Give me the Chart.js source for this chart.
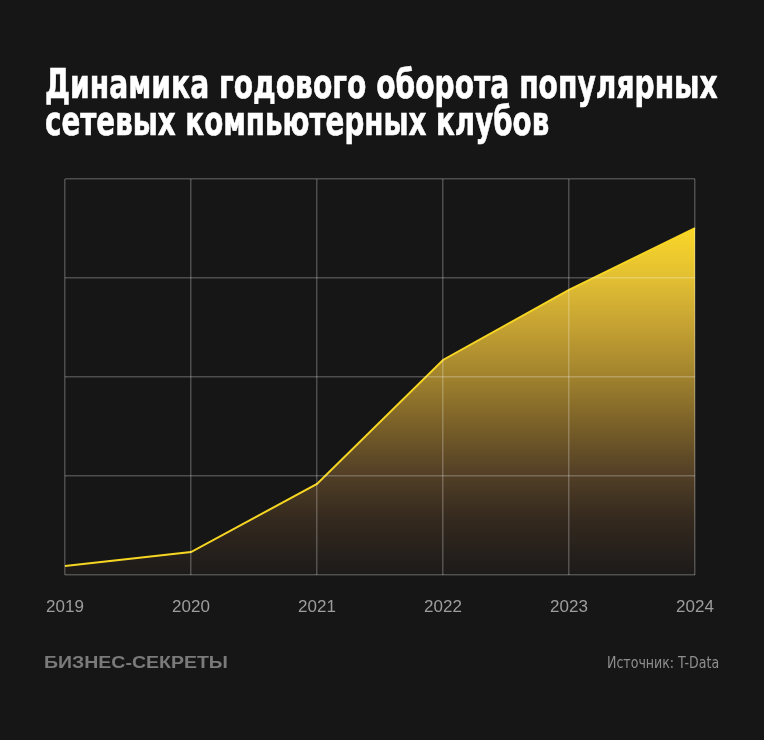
<!DOCTYPE html>
<html><head><meta charset="utf-8">
<script src="https://cdn.jsdelivr.net/npm/chart.js@4.4.0/dist/chart.umd.min.js"></script>
<style>
html,body{margin:0;padding:0;background:#161616;}
#wrap{position:relative;width:764px;height:740px;background:#161616;overflow:hidden;}
#c{position:absolute;left:0;top:0;}
.t{position:absolute;left:45px;color:#fff;font-family:"Liberation Sans Narrow","DejaVu Sans Condensed",sans-serif;font-weight:bold;font-size:40px;line-height:37px;white-space:nowrap;transform-origin:0 0;-webkit-text-stroke:0.6px #fff;}
#brand{position:absolute;left:44px;top:654px;color:#7a7a7a;font-family:"Liberation Sans",Arial,sans-serif;font-weight:bold;font-size:16px;line-height:18px;white-space:nowrap;transform-origin:0 0;}
#src{position:absolute;right:45px;top:654px;color:#8e8e8e;font-family:"Liberation Sans Narrow","DejaVu Sans Condensed",sans-serif;font-size:16px;line-height:18px;white-space:nowrap;transform-origin:100% 0;}
</style></head>
<body><div id="wrap">
<canvas id="c" width="764" height="740"></canvas>
<div class="t" id="t1" style="top:66px">Динамика годового оборота популярных</div>
<div class="t" id="t2" style="top:103px">сетевых компьютерных клубов</div>
<div id="brand">БИЗНЕС-СЕКРЕТЫ</div>
<div id="src">Источник: T-Data</div>
</div>
<script>
const years = ["2019","2020","2021","2022","2023","2024"];
const turnover = [2.3, 5.8, 23, 54.3, 72, 87.6];
const yTicks = [0, 25, 50, 75, 100];

function fit(id, w){const el=document.getElementById(id);const cur=el.scrollWidth;el.style.transform='scaleX('+(w/cur)+')';}
fit('t1',673); fit('t2',504); fit('brand',184); fit('src',112);

const ctx = document.getElementById('c').getContext('2d');
new Chart(ctx, {
  type: 'line',
  data: { labels: years, datasets: [{
    data: turnover,
    borderColor: '#f7d623',
    borderWidth: 2,
    pointRadius: 0,
    tension: 0,
    fill: 'origin',
    backgroundColor: (c) => {
      const a = c.chart.chartArea;
      if (!a) return 'rgba(0,0,0,0)';
      const g = c.chart.ctx.createLinearGradient(0, a.top + 49, 0, a.bottom);
      g.addColorStop(0, 'rgb(250,215,40)');
      g.addColorStop(0.15, 'rgb(225,190,50)');
      g.addColorStop(0.29, 'rgb(195,160,50)');
      g.addColorStop(0.43, 'rgb(160,130,45)');
      g.addColorStop(0.58, 'rgb(118,93,40)');
      g.addColorStop(0.71, 'rgb(82,63,38)');
      g.addColorStop(0.84, 'rgb(52,41,30)');
      g.addColorStop(1, 'rgb(28,26,26)');
      return g;
    }
  }]},
  options: {
    responsive: false, animation: false,
    layout: { padding: { left: 65, right: 69, top: 179, bottom: 0 } },
    plugins: { legend: { display: false }, tooltip: { enabled: false } },
    scales: {
      x: {
        grid: { z: 1, color: 'rgba(255,255,255,0.24)', lineWidth: 1.5, drawTicks: false },
        border: { display: false },
        ticks: { color: '#9d9d9d', font: { family: '"Liberation Sans", Arial, sans-serif', size: 17 }, padding: 22, maxRotation: 0, autoSkip: false },
        afterFit: (s) => { s.height = 165; }
      },
      y: {
        min: 0, max: 100,
        afterBuildTicks: (s) => { s.ticks = yTicks.map(v => ({ value: v })); },
        grid: { z: 1, color: 'rgba(255,255,255,0.24)', lineWidth: 1.5, drawTicks: false },
        border: { display: false },
        ticks: { display: false },
        afterFit: (s) => { s.width = 0; }
      }
    }
  }
});
</script>
</body></html>
